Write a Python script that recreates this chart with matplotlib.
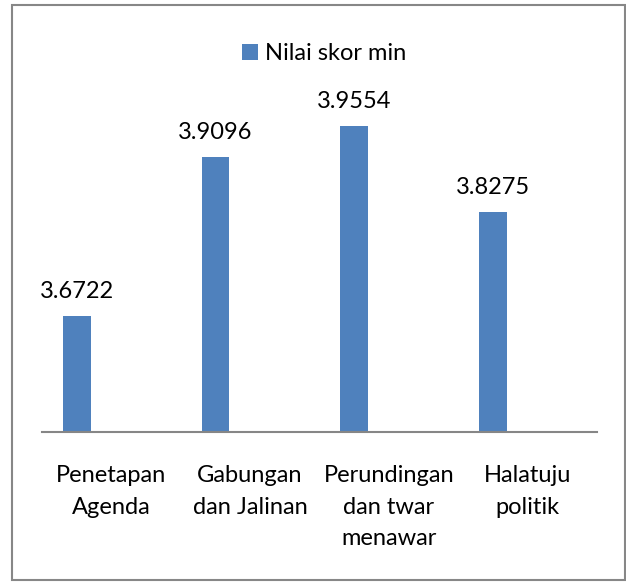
import matplotlib
matplotlib.use("Agg")
import matplotlib.pyplot as plt
from matplotlib.patches import Rectangle
import numpy as np

categories = ["Penetapan\nAgenda", "Gabungan\ndan Jalinan", "Perundingan\ndan twar\nmenawar", "Halatuju\npolitik"]
values = [3.6722, 3.9096, 3.9554, 3.8275]
value_labels = ["3.6722", "3.9096", "3.9554", "3.8275"]
series_name = "Nilai skor min"

plt.rcParams['font.family'] = ['Lato', 'DejaVu Sans']
FS = 17

W, H = 626, 583
fig = plt.figure(figsize=(W / 100, H / 100), dpi=100)
ax = fig.add_axes([42 / W, 1 - 432 / H, (597 - 42) / W, (432 - 96.5) / H])

x = np.arange(len(categories))
bar_color = "#4F81BD"
bars = ax.bar(x - 0.25, values, width=0.2, color=bar_color, label=series_name, zorder=2)

for xi, v, lab in zip(x, values, value_labels):
    ax.annotate(lab, (xi - 0.25, v), xytext=(0, 13), textcoords="offset points",
                ha="center", va="baseline", fontsize=FS, color="black")

ax.set_xlim(-0.5, len(categories) - 0.5)
ax.set_ylim(3.5, 4.0)
ax.set_xticks(x)
ax.set_xticklabels(categories, fontsize=FS, linespacing=1.62)
ax.tick_params(axis="x", length=0, pad=24)
ax.set_yticks([])
for s in ["top", "right", "left"]:
    ax.spines[s].set_visible(False)
ax.spines["bottom"].set_color("#868686")
ax.spines["bottom"].set_linewidth(1.5)

leg = fig.legend(handles=[bars], labels=[series_name], loc="center",
                 bbox_to_anchor=(324 / W, 1 - 54 / H), frameon=False, fontsize=FS,
                 handlelength=0.65, handleheight=0.65, handletextpad=0.3)

border = Rectangle((12 / W, 3 / H), (625 - 12) / W, (578 - 3) / H,
                   transform=fig.transFigure, fill=False, edgecolor="#878787", linewidth=1.5)
fig.patches.append(border)

fig.savefig("out.png", dpi=100)
